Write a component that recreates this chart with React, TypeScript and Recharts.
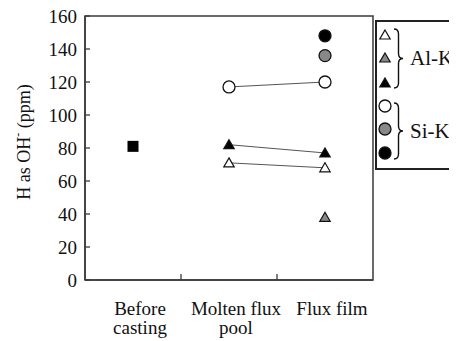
import {
  ComposedChart,
  Scatter,
  XAxis,
  YAxis,
  ReferenceArea,
} from "recharts";

// stages along the x axis
const categories = [
  "Before\ncasting",
  "Molten flux\npool",
  "Flux film",
];

// H as OH- (ppm) per stage, null = not measured
const beforeCasting = [81, null, null];
const alkOpen = [null, 71, 68];
const alkGray = [null, null, 38];
const alkBlack = [null, 82, 77];
const sikOpen = [null, 117, 120];
const sikGray = [null, null, 136];
const sikBlack = [null, null, 148];

const yTicks = [0, 20, 40, 60, 80, 100, 120, 140, 160];

const FONT = "'Liberation Serif', 'Times New Roman', serif";
const AXIS = "#3a3a3a";

const toPoints = (vals: (number | null)[]) =>
  vals
    .map((v, i) => (v == null ? null : { x: i + 0.5, y: v }))
    .filter(Boolean) as { x: number; y: number }[];

type Kind = "tri" | "circle" | "square";

const marker = (kind: Kind, fill: string) => (p: any) => {
  const { cx, cy } = p;
  if (kind === "square") {
    return <rect x={cx - 5.5} y={cy - 5.5} width={11} height={11} fill="#000" />;
  }
  if (kind === "circle") {
    return (
      <circle cx={cx} cy={cy} r={6} fill={fill} stroke="#111" strokeWidth={1.3} />
    );
  }
  return (
    <path
      d={`M${cx},${cy - 5} L${cx + 5.2},${cy + 4} L${cx - 5.2},${cy + 4} Z`}
      fill={fill}
      stroke="#111"
      strokeWidth={1.2}
    />
  );
};

const XTick = (props: any) => {
  const { x, y, payload } = props;
  const v = payload.value as number;
  if (Number.isInteger(v)) {
    return <line x1={x} x2={x} y1={y} y2={y - 6} stroke={AXIS} strokeWidth={1.3} />;
  }
  const lines = categories[Math.floor(v)].split("\n");
  const tx = x + 7;
  return (
    <text x={tx} y={y + 35} textAnchor="middle" fontFamily={FONT} fontSize={19} fill="#111">
      {lines.map((l, i) => (
        <tspan key={i} x={tx} dy={i === 0 ? 0 : 19}>
          {l}
        </tspan>
      ))}
    </text>
  );
};

const YTick = (props: any) => {
  const { x, y, payload } = props;
  return (
    <g>
      <line x1={x} x2={x + 5} y1={y} y2={y} stroke={AXIS} strokeWidth={1.3} />
      <text
        x={x - 8}
        y={y}
        dy="0.35em"
        textAnchor="end"
        fontFamily={FONT}
        fontSize={19}
        fill="#111"
      >
        {payload.value}
      </text>
    </g>
  );
};

const YLabel = (props: any) => {
  const { viewBox } = props;
  const cx = 16;
  const cy = viewBox.y + viewBox.height / 2 - 6;
  return (
    <text
      x={cx}
      y={cy}
      transform={`rotate(-90, ${cx}, ${cy})`}
      textAnchor="middle"
      dominantBaseline="central"
      fontFamily={FONT}
      fontSize={18}
      fill="#111"
    >
      H as OH
      <tspan dy={-6} fontSize={12}>
        -
      </tspan>
      <tspan dy={6}> (ppm)</tspan>
    </text>
  );
};

const brace = (x: number, y1: number, y2: number) => {
  const ym = (y1 + y2) / 2;
  const w = 9;
  const r = 5;
  const m = x + w / 2;
  return `M${x},${y1} Q${m},${y1} ${m},${y1 + r} L${m},${ym - r} Q${m},${ym} ${x + w},${ym} Q${m},${ym} ${m},${ym + r} L${m},${y2 - r} Q${m},${y2} ${x},${y2}`;
};

const LegendBox = () => {
  const rows: { kind: Kind; fill: string; y: number }[] = [
    { kind: "tri", fill: "#fff", y: 15 },
    { kind: "tri", fill: "#888", y: 38 },
    { kind: "tri", fill: "#000", y: 63 },
    { kind: "circle", fill: "#fff", y: 86 },
    { kind: "circle", fill: "#888", y: 109 },
    { kind: "circle", fill: "#000", y: 133 },
  ];
  return (
    <svg width={82} height={152} style={{ display: "block" }}>
      <rect x={1} y={1} width={100} height={148} fill="#fff" stroke="#222" strokeWidth={2} />
      {rows.map((r, i) => (
        <g key={i}>{marker(r.kind, r.fill)({ cx: 10, cy: r.y })}</g>
      ))}
      <path d={brace(19, 9, 68)} fill="none" stroke="#111" strokeWidth={1.4} />
      <path d={brace(19, 83, 139)} fill="none" stroke="#111" strokeWidth={1.4} />
      <text x={35} y={45} fontFamily={FONT} fontSize={21} fill="#111">
        Al-K
      </text>
      <text x={35} y={118} fontFamily={FONT} fontSize={21} fill="#111">
        Si-K
      </text>
    </svg>
  );
};

const series: { data: (number | null)[]; kind: Kind; fill: string; line: boolean }[] = [
  { data: beforeCasting, kind: "square", fill: "#000", line: false },
  { data: alkOpen, kind: "tri", fill: "#fff", line: true },
  { data: alkGray, kind: "tri", fill: "#888", line: false },
  { data: alkBlack, kind: "tri", fill: "#000", line: true },
  { data: sikOpen, kind: "circle", fill: "#fff", line: true },
  { data: sikGray, kind: "circle", fill: "#888", line: false },
  { data: sikBlack, kind: "circle", fill: "#000", line: false },
];

export default function App() {
  return (
    <div style={{ position: "relative", width: 449, height: 333 }}>
      <ComposedChart
        width={449}
        height={333}
        margin={{ top: 8, right: 84, bottom: 0, left: 0 }}
        style={{ overflow: "visible" }}
      >
        <XAxis
          dataKey="x"
          type="number"
          domain={[0, 3]}
          ticks={[0.5, 1, 1.5, 2, 2.5]}
          interval={0}
          height={61}
          tickSize={0}
          tickMargin={0}
          tickLine={false}
          axisLine={{ stroke: AXIS, strokeWidth: 1.5 }}
          tick={<XTick />}
        />
        <YAxis
          dataKey="y"
          type="number"
          domain={[0, 160]}
          ticks={yTicks}
          interval={0}
          width={77}
          tickSize={0}
          tickMargin={0}
          tickLine={false}
          axisLine={{ stroke: AXIS, strokeWidth: 1.5 }}
          tick={<YTick />}
          label={<YLabel />}
        />
        <ReferenceArea
          x1={0}
          x2={3}
          y1={0}
          y2={160}
          fill="none"
          stroke={AXIS}
          strokeWidth={1.5}
          ifOverflow="visible"
        />
        {series.map((s, i) => (
          <Scatter
            key={i}
            data={toPoints(s.data)}
            shape={marker(s.kind, s.fill)}
            line={s.line ? { stroke: "#555", strokeWidth: 1 } : false}
            isAnimationActive={false}
          />
        ))}
      </ComposedChart>
      <div style={{ position: "absolute", left: 367, top: 12 }}>
        <LegendBox />
      </div>
    </div>
  );
}
